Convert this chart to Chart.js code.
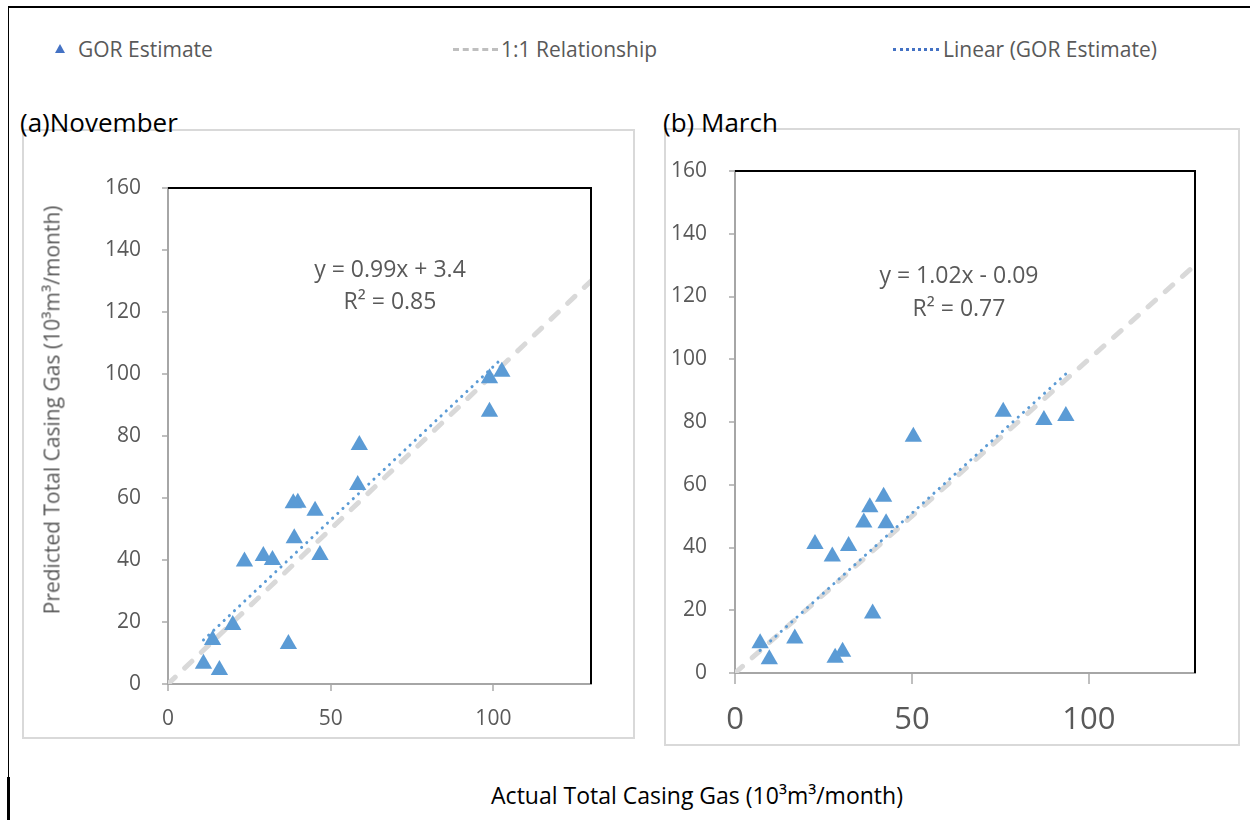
<!DOCTYPE html>
<html>
<head>
<meta charset="utf-8">
<script src="https://cdn.jsdelivr.net/npm/chart.js@4.4.1/dist/chart.umd.min.js"></script>
<style>
  body { margin: 0; background: #fff; }
  #page { position: relative; width: 1250px; height: 820px; overflow: hidden; background: #fff; font-family: "Open Sans", sans-serif; }
  .abs { position: absolute; white-space: nowrap; line-height: 1; }
  .c { transform: translate(-50%, -50%); }
  .narrow { font-family: "Liberation Sans Narrow", "Open Sans", sans-serif; }
  .frame { position: absolute; border: 2px solid #D9D9D9; box-sizing: border-box; }
  .eq { font-size: 23px; color: #595959; text-align: center; }
  .leg { font-size: 21px; color: #595959; transform: translateY(-50%); }
</style>
</head>
<body>
<div id="page">
  <!-- outer black lines -->
  <div class="abs" style="left:8px;top:6px;width:1242px;height:2px;background:#000"></div>
  <div class="abs" style="left:8px;top:6px;width:1px;height:772px;background:#000"></div>
  <div class="abs" style="left:7px;top:777px;width:3px;height:43px;background:#000"></div>

  <!-- legend -->
  <div class="abs" style="left:55px;top:44px;width:0;height:0;border-left:5px solid transparent;border-right:5px solid transparent;border-bottom:9px solid #4472C4"></div>
  <div class="abs narrow leg" style="left:78px;top:49px">GOR Estimate</div>
  <div class="abs" style="left:453px;top:48px;width:45px;border-top:3px dashed #BFBFBF"></div>
  <div class="abs narrow leg" style="left:501px;top:49px">1:1 Relationship</div>
  <div class="abs" style="left:893px;top:48px;width:46px;border-top:3px dotted #4472C4"></div>
  <div class="abs narrow leg" style="left:943px;top:49px">Linear (GOR Estimate)</div>

  <!-- panel frames -->
  <div class="frame" style="left:22px;top:129px;width:613px;height:610px"></div>
  <div class="frame" style="left:664px;top:128px;width:576px;height:618px"></div>

  <div class="abs narrow" style="left:20px;top:109px;font-size:26px;color:#000">(a)November</div>
  <div class="abs narrow" style="left:663px;top:109px;font-size:26px;color:#000">(b) March</div>

  <div style="position:absolute;left:22px;top:129px;width:613px;height:610px"><canvas id="chartA"></canvas></div>
  <div style="position:absolute;left:664px;top:128px;width:576px;height:618px"><canvas id="chartB"></canvas></div>

  <div class="abs c" style="left:52px;top:410px;transform:translate(-50%,-50%) rotate(-90deg);font-size:21px;color:#595959">Predicted Total Casing Gas (10³m³/month)</div>

  <div class="abs c eq" style="left:390px;top:268px">y = 0.99x + 3.4</div>
  <div class="abs c eq" style="left:390px;top:300px">R² = 0.85</div>
  <div class="abs c eq" style="left:959px;top:274px">y = 1.02x - 0.09</div>
  <div class="abs c eq" style="left:959px;top:307px">R² = 0.77</div>

  <div class="abs c narrow" style="left:697px;top:795px;font-size:23px;color:#000">Actual Total Casing Gas (10³m³/month)</div>
</div>

<script>
// November (a)
const novActual = [102.6, 98.8, 98.8, 58.8, 58.3, 39.9, 38.5, 45.2, 38.8, 46.7, 23.5, 29.3, 32.1, 19.9, 13.7, 37.0, 10.9, 15.8];
const novPredicted = [100.7, 98.6, 87.8, 77.1, 64.2, 58.5, 58.3, 55.9, 47.0, 41.6, 39.5, 41.3, 40.0, 19.0, 14.2, 12.9, 6.5, 4.5];
const novTrendX = [10.9, 102.6];
const novTrendY = [14.2, 105.0];

// March (b)
const marActual = [75.8, 87.3, 93.5, 50.4, 42.0, 38.1, 36.4, 42.7, 22.6, 32.1, 27.5, 38.9, 16.9, 7.1, 9.7, 30.4, 28.3];
const marPredicted = [83.3, 80.6, 81.9, 75.3, 56.2, 52.8, 48.0, 47.7, 41.1, 40.5, 37.1, 19.0, 11.0, 9.5, 4.4, 6.8, 4.9];
const marTrendX = [7.1, 93.5];
const marTrendY = [7.2, 95.3];

const oneToOne = [0, 130];
const xTicks = [0, 50, 100];
const yTicks = [0, 20, 40, 60, 80, 100, 120, 140, 160];

const pts = (xs, ys) => xs.map((x, i) => ({ x: x, y: ys[i] }));

const frame = {
  id: 'frame',
  afterDraw(chart) {
    const a = chart.chartArea, ctx = chart.ctx;
    ctx.save();
    ctx.strokeStyle = '#000';
    ctx.lineWidth = 2;
    ctx.beginPath();
    ctx.moveTo(a.left, a.top);
    ctx.lineTo(a.right, a.top);
    ctx.lineTo(a.right, a.bottom);
    ctx.stroke();
    ctx.restore();
  }
};

function makeChart(id, xs, ys, tx, ty, cfg) {
  return new Chart(document.getElementById(id), {
    type: 'scatter',
    data: {
      datasets: [
        {
          label: 'GOR Estimate',
          data: pts(xs, ys),
          pointStyle: 'triangle',
          pointRadius: 10,
          backgroundColor: '#5B9BD5',
          borderColor: '#5B9BD5',
          borderWidth: 0,
          order: 0
        },
        {
          label: 'Linear (GOR Estimate)',
          type: 'line',
          data: pts(tx, ty),
          borderColor: '#5B9BD5',
          borderWidth: 3,
          borderDash: [0.1, 7],
          borderCapStyle: 'round',
          pointRadius: 0,
          fill: false,
          order: 1
        },
        {
          label: '1:1 Relationship',
          type: 'line',
          data: pts(oneToOne, oneToOne),
          borderColor: '#D9D9D9',
          borderWidth: 5,
          borderDash: [10, 13],
          borderCapStyle: 'round',
          pointRadius: 0,
          fill: false,
          order: 2
        }
      ]
    },
    options: {
      responsive: true,
      maintainAspectRatio: false,
      animation: false,
      events: [],
      layout: { padding: { top: cfg.top, right: cfg.right, left: 0, bottom: 0 } },
      plugins: { legend: { display: false }, tooltip: { enabled: false } },
      scales: {
        x: {
          type: 'linear',
          min: 0, max: 130,
          afterFit: s => { s.height = cfg.xh; },
          afterBuildTicks: s => { s.ticks = xTicks.map(v => ({ value: v })); },
          border: { color: '#A6A6A6', width: 2 },
          grid: { drawOnChartArea: false, color: '#BFBFBF', tickLength: cfg.xtl, lineWidth: 2 },
          ticks: { color: '#595959', font: { family: 'Open Sans', size: cfg.xfs }, padding: cfg.xpad, maxRotation: 0 }
        },
        y: {
          type: 'linear',
          min: 0, max: 160,
          afterFit: s => { s.width = cfg.yw; },
          afterBuildTicks: s => { s.ticks = yTicks.map(v => ({ value: v })); },
          border: { color: '#A6A6A6', width: 2 },
          grid: { drawOnChartArea: false, color: '#BFBFBF', tickLength: 6, lineWidth: 2 },
          ticks: { color: '#595959', font: { family: 'Open Sans', size: 21 }, padding: cfg.ypad }
        }
      }
    },
    plugins: [frame]
  });
}

makeChart('chartA', novActual, novPredicted, novTrendX, novTrendY,
  { top: 59, right: 44, yw: 146, xh: 55, xfs: 21, xpad: 15, xtl: 7, ypad: 21 });
makeChart('chartB', marActual, marPredicted, marTrendX, marTrendY,
  { top: 43, right: 45, yw: 71, xh: 73, xfs: 31, xpad: 18, xtl: 11, ypad: 22 });
</script>
</body>
</html>
